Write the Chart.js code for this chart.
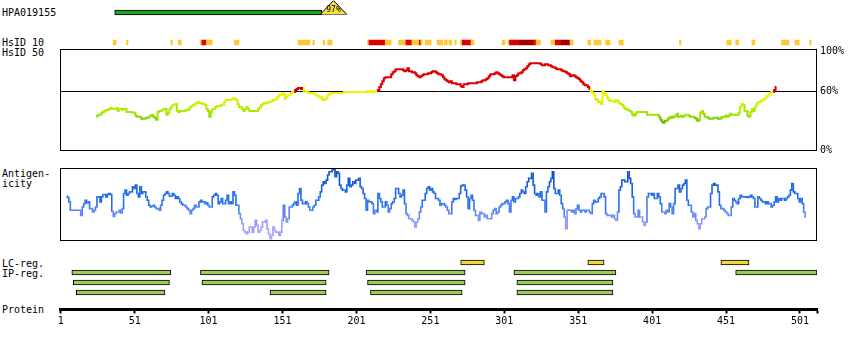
<!DOCTYPE html>
<html>
<head>
<meta charset="utf-8">
<script src="https://cdn.jsdelivr.net/npm/chart.js@4.4.1/dist/chart.umd.min.js"></script>
<style>
  html, body { margin: 0; padding: 0; background: #fff; }
  body { width: 850px; height: 350px; position: relative; overflow: hidden;
         font-family: "DejaVu Sans Mono", monospace; }
  canvas { position: absolute; left: 0; }
  .lbl { position: absolute; left: 2px; font-size: 10px; line-height: 10px;
         white-space: pre; color: #000; }
</style>
</head>
<body>
<div class="lbl" style="top:8px">HPA019155</div>
<div class="lbl" style="top:37.5px">HsID 10</div>
<div class="lbl" style="top:47.5px">HsID 50</div>
<div class="lbl" style="top:168.5px">Antigen-</div>
<div class="lbl" style="top:178.5px">icity</div>
<div class="lbl" style="top:258.5px">LC-reg.</div>
<div class="lbl" style="top:268.5px">IP-reg.</div>
<div class="lbl" style="top:305px">Protein</div>

<canvas id="cAntigen" width="850" height="20" style="top:0px"></canvas>
<canvas id="cIdentity" width="850" height="20" style="top:0px"></canvas>
<canvas id="cHsid10" width="850" height="12" style="top:36px"></canvas>
<canvas id="cHsid50" width="850" height="120" style="top:40px"></canvas>
<canvas id="cAntigenicity" width="850" height="90" style="top:160px"></canvas>
<canvas id="cRegions" width="850" height="100" style="top:250px"></canvas>

<script>
// ---- Protein and antigen ----
const proteinLength = 512;
const proteinTicks = [1, 51, 101, 151, 201, 251, 301, 351, 401, 451, 501];

const antigenName = 'HPA019155';
const antigenRange = [38, 177];      // residues covered by the antigen bar
const identityMarker = [177, 194];   // residues spanned by the identity triangle
const identityLabel = '97%';

// ---- HsID 10 blocks: [first residue, last residue, level] (1 = low, 2 = high, 3 = highest) ----
const hsid10Blocks = [
  [37, 38, 1], [46, 46, 1], [76, 76, 1], [81, 82, 1], [96, 96, 1], [97, 99, 2], [100, 103, 1],
  [119, 121, 1], [162, 169, 1], [172, 172, 1], [179, 179, 1], [182, 184, 1],
  [209, 209, 1], [210, 220, 2], [221, 224, 1], [230, 234, 1], [235, 238, 2], [239, 243, 1],
  [244, 244, 2], [245, 245, 1], [248, 251, 1], [256, 259, 1], [261, 262, 1], [264, 265, 1],
  [268, 268, 1], [272, 272, 1], [273, 278, 2], [279, 280, 1], [300, 301, 1], [304, 304, 1],
  [305, 311, 2], [312, 320, 3], [321, 322, 2], [323, 325, 1], [333, 335, 1], [336, 339, 2],
  [340, 345, 3], [346, 347, 1], [358, 359, 1], [362, 366, 1], [370, 372, 1], [379, 381, 1],
  [420, 420, 1], [452, 454, 1], [458, 459, 1], [469, 470, 1], [489, 493, 1], [498, 500, 1],
  [508, 508, 1]
];

// ---- HsID 50: percent identity per residue, starting at residue 25 ----
const hsid50Start = 25;
const hsid50 = [
  34,35,36,36,38,39,40,41,41, 42,43,42,42,42,43,40,42,42, 41,42,42,39,39,39,39,38,38,
  35,34,34,34,32,32,32,33,33, 34,35,36,34,33,31,39,40,40, 41,42,42,36,38,42,44,46,46,
  47,40,39,40,40,40,40,41,41, 42,44,45,46,47,48,49,48,48, 47,47,46,42,40,34,39,42,42,
  44,45,45,45,46,46,49,51,51, 51,51,52,53,52,51,47,44,44, 42,40,42,44,42,40,40,40,40,
  40,40,42,44,46,47,48,48,48, 49,49,50,51,51,52,54,56,56, 58,57,52,54,56,56,58,59,59,
  61,62,63,63,62,63,60,59,59, 58,58,58,58,57,56,55,54,54, 52,51,51,53,56,57,58,58,58,
  58,58,58,58,58,58,59,59,59, 59,59,59,59,59,59,59,59,59, 59,59,59,59,60,59,60,59,59,
  60,60,61,64,67,70,73,74,74, 74,74,77,79,80,82,82,82,82, 82,81,80,81,83,80,80,79,79,
  78,76,75,74,75,76,77,77,77, 78,78,79,80,80,79,78,77,77, 76,74,72,71,70,69,70,68,68,
  68,67,67,67,65,64,67,67,67, 68,68,68,68,68,68,69,69,69, 70,71,71,72,73,75,77,77,77,
  78,79,78,77,76,75,74,74,74, 74,74,74,76,71,75,76,78,78, 79,81,82,83,85,87,88,88,88,
  88,88,88,88,87,86,86,87,87, 86,86,85,84,84,83,82,82,82, 81,80,80,79,78,77,75,76,76,
  75,74,73,72,70,69,67,66,66, 64,62,60,58,56,52,51,49,49, 47,60,57,56,53,51,50,50,50,
  49,51,50,48,47,46,44,42,42, 41,40,39,36,35,37,39,39,39, 39,39,39,39,36,36,36,36,36,
  36,36,36,34,31,29,28,30,30, 32,33,34,33,34,35,37,34,34, 35,34,35,36,36,35,34,34,34,
  33,32,30,31,38,40,37,34,34, 33,32,32,32,33,33,33,32,32, 33,34,34,35,34,35,37,36,36,
  36,36,36,38,44,47,46,40,40, 35,34,39,42,40,44,47,49,49, 50,51,52,53,55,56,57,59,59,
  61,64
];
const hsid50Ticks = [0, 60, 100];
const hsid50Threshold = 60;

// ---- Antigenicity score per residue (relative units), starting at residue 5 ----
const antigenicityStart = 5;
const antigenicity = [
  132,128,115,90,90,90,90,90,90, 90,75,100,110,120,112,115,95,95, 85,90,100,130,130,115,130,137,137,
  130,137,140,137,88,72,80,85,85, 90,82,95,140,150,135,140,145,145, 160,155,165,140,130,160,140,145,145,
  130,120,105,100,102,105,100,95,95, 90,105,120,135,140,145,140,132,132, 140,135,125,130,125,115,110,105,105,
  100,95,90,80,90,95,105,100,100, 115,120,115,115,110,112,105,100,100, 130,135,140,135,110,115,125,110,110,
  120,135,110,115,110,145,135,105,105, 80,65,50,30,25,20,25,40,40, 25,40,60,45,25,30,40,55,55,
  60,35,20,5,15,40,30,25,25, 15,25,60,105,70,55,65,100,100, 105,110,115,105,140,155,120,110,110,
  115,110,100,90,90,100,105,120,120, 130,145,165,175,170,180,195,205,205, 210,215,190,205,200,165,155,150,150,
  145,165,185,160,165,175,170,180,180, 185,160,155,140,125,90,120,115,115, 110,80,90,85,140,125,115,100,100,
  115,105,85,95,110,115,125,155,155, 140,130,135,150,110,80,75,65,65, 60,55,40,55,65,85,100,120,120,
  140,155,160,150,155,145,140,125,125, 120,105,110,110,105,100,90,80,80, 115,125,122,125,125,140,162,165,165,
  150,130,95,125,135,120,90,75,75, 60,85,80,80,70,75,65,65,65, 80,90,95,80,85,100,105,110,110,
  115,120,110,85,120,130,115,125,125, 130,140,150,145,140,160,175,185,185, 200,165,140,135,140,130,145,120,120,
  85,145,160,175,185,205,155,140,140, 150,135,110,95,70,35,90,90,90, 85,90,80,95,105,90,85,90,90,
  85,90,90,85,80,110,120,115,115, 125,130,140,140,130,80,75,75,75, 70,75,65,60,85,150,160,180,180,
  175,175,205,185,170,130,80,70,70, 90,70,70,55,45,55,130,140,140, 135,140,125,125,140,130,110,85,85,
  80,90,85,110,100,80,110,155,155, 165,145,155,165,170,180,120,105,105, 85,70,80,60,50,35,50,65,65,
  70,95,100,100,140,165,170,165,165, 145,105,95,95,90,85,80,75,75, 100,125,120,115,110,125,135,130,130,
  130,130,128,130,135,130,125,100,100, 130,125,120,115,115,110,115,110,110, 100,105,115,130,115,125,120,125,125,
  120,125,130,135,150,170,145,140,140, 125,115,125,110,85,70
];
const antigenicityMax = 216;

// ---- Regions: [first residue, last residue] ----
const lcRegions = [[272, 287], [358, 368], [448, 466]];
const ipRegions = [
  [[9, 75], [96, 182], [208, 274], [308, 376], [458, 512]],
  [[10, 74], [97, 180], [209, 274], [310, 374]],
  [[12, 71], [143, 180], [211, 272], [310, 374]]
];

// ---- Styling ----
const FONT = '"DejaVu Sans Mono", monospace';
Chart.defaults.font.family = FONT;
Chart.defaults.font.size = 10;
Chart.defaults.color = '#000';
Chart.defaults.animation = false;
Chart.defaults.events = [];
Chart.defaults.plugins.legend.display = false;
Chart.defaults.plugins.tooltip.enabled = false;

const hsid10Colors = { 1: '#FFC832', 2: '#DD0000', 3: '#A00000' };

function mix(stops, v) {
  if (v <= stops[0][0]) return stops[0][1];
  for (let i = 1; i < stops.length; i++) {
    if (v <= stops[i][0]) {
      const [a, ca] = stops[i - 1], [b, cb] = stops[i];
      const t = (v - a) / (b - a);
      return ca.map((c, k) => Math.round(c + (cb[k] - c) * t));
    }
  }
  return stops[stops.length - 1][1];
}
const rgb = c => `rgb(${c[0]},${c[1]},${c[2]})`;

const identityStops = [[28, [95, 185, 0]], [35, [150, 225, 0]], [45, [195, 240, 0]], [55, [235, 245, 0]], [60, [250, 240, 0]]];
function hsidColor(v) {
  return v > hsid50Threshold ? '#DD0000' : rgb(mix(identityStops, v));
}
const antigenStops = [[0, [170, 165, 255]], [50, [155, 155, 255]], [80, [100, 135, 250]], [110, [40, 112, 240]], [150, [25, 100, 230]], [216, [0, 70, 185]]];
function antigenColor(v) { return rgb(mix(antigenStops, v)); }

// Residue axis shared by every panel: each residue is one unit wide.
function residueAxis() {
  return { type: 'linear', min: 0.5, max: proteinLength + 0.5, display: false, offset: false };
}
const span = r => [r[0] - 0.5, r[1] + 0.5];

// Black box around a panel's plot area
const framePlugin = {
  id: 'frame',
  afterDatasetsDraw(chart) {
    const { ctx, chartArea: a } = chart;
    const l = Math.floor(a.left) + 0.5, t = Math.floor(a.top) + 0.5;
    const r = Math.floor(a.right) - 0.5, b = Math.floor(a.bottom) + 0.5;
    ctx.save();
    ctx.strokeStyle = '#000';
    ctx.lineWidth = 1;
    ctx.strokeRect(l, t, r - l, b - t);
    ctx.restore();
  }
};

// ---- Antigen bar ----
new Chart(document.getElementById('cAntigen'), {
  type: 'bar',
  data: {
    labels: [antigenName],
    datasets: [{
      data: [span(antigenRange)],
      backgroundColor: '#22A322', borderColor: '#000', borderWidth: 1,
      borderSkipped: false, barThickness: 5
    }]
  },
  options: {
    indexAxis: 'y', responsive: false, devicePixelRatio: 1,
    layout: { padding: { left: 60, right: 33, top: 7.5, bottom: 2.5 } },
    scales: { x: residueAxis(), y: { display: false } }
  }
});

// ---- Identity triangle with its label ----
const triangleLabel = {
  id: 'triangleLabel',
  afterDatasetsDraw(chart) {
    const { ctx, scales: { x, y } } = chart;
    ctx.save();
    ctx.font = '8px ' + FONT;
    ctx.fillStyle = '#000';
    ctx.textAlign = 'center';
    ctx.textBaseline = 'middle';
    ctx.fillText(identityLabel, x.getPixelForValue((identityMarker[0] + identityMarker[1]) / 2), y.getPixelForValue(0.36));
    ctx.restore();
  }
};
new Chart(document.getElementById('cIdentity'), {
  type: 'line',
  data: {
    datasets: [{
      data: [
        { x: identityMarker[0] - 0.5, y: 0 },
        { x: (identityMarker[0] + identityMarker[1]) / 2, y: 1 },
        { x: identityMarker[1] + 0.5, y: 0 },
        { x: identityMarker[0] - 0.5, y: 0 }
      ],
      fill: 'shape', backgroundColor: '#F4E040', borderColor: '#000', borderWidth: 1,
      pointRadius: 0, tension: 0
    }]
  },
  options: {
    responsive: false, devicePixelRatio: 1,
    layout: { padding: { left: 60, right: 33, top: 0.5, bottom: 5.5 } },
    scales: { x: residueAxis(), y: { type: 'linear', min: 0, max: 1, display: false } }
  },
  plugins: [triangleLabel]
});

// ---- HsID 10 strip ----
new Chart(document.getElementById('cHsid10'), {
  type: 'bar',
  data: {
    labels: ['HsID 10'],
    datasets: [{
      data: hsid10Blocks.map(b => ({ x: span(b), y: 'HsID 10', level: b[2] })),
      backgroundColor: ctx => (ctx.raw ? hsid10Colors[ctx.raw.level] : hsid10Colors[1]),
      borderWidth: 0, barThickness: 5, grouped: false
    }]
  },
  options: {
    indexAxis: 'y', responsive: false, devicePixelRatio: 1,
    layout: { padding: { left: 60, right: 33, top: 1.5, bottom: 0.5 } },
    scales: { x: residueAxis(), y: { display: false } }
  }
});

// ---- HsID 50 identity profile ----
new Chart(document.getElementById('cHsid50'), {
  type: 'line',
  data: {
    datasets: [{
      data: hsid50.map((v, i) => ({ x: hsid50Start + i, y: v })),
      borderWidth: 2, pointRadius: 0, stepped: 'middle', fill: false,
      borderColor: '#DD0000',
      segment: { borderColor: ctx => hsidColor(ctx.p1.parsed.y) }
    }]
  },
  options: {
    responsive: false, devicePixelRatio: 1,
    layout: { padding: { left: 60, right: 0, top: 8, bottom: 9.5 } },
    scales: {
      x: residueAxis(),
      y: {
        type: 'linear', position: 'right', min: 0, max: 102.5, offset: false,
        afterBuildTicks: s => { s.ticks = hsid50Ticks.map(v => ({ value: v })); },
        afterFit: s => { s.width = 33; },
        ticks: { padding: 3, callback: v => v + '%', color: '#000' },
        grid: {
          drawTicks: false, lineWidth: 1,
          color: c => (c.tick && c.tick.value === hsid50Threshold ? '#000' : 'rgba(0,0,0,0)')
        },
        border: { display: false }
      }
    }
  },
  plugins: [framePlugin]
});

// ---- Antigenicity profile ----
new Chart(document.getElementById('cAntigenicity'), {
  type: 'line',
  data: {
    datasets: [{
      data: antigenicity.map((v, i) => ({ x: antigenicityStart + i, y: v })),
      borderWidth: 1.6, pointRadius: 0, stepped: 'middle', fill: false,
      borderColor: '#2070F0',
      segment: { borderColor: ctx => antigenColor((ctx.p0.parsed.y + ctx.p1.parsed.y) / 2) }
    }]
  },
  options: {
    responsive: false, devicePixelRatio: 1,
    layout: { padding: { left: 60, right: 33, top: 8, bottom: 9.5 } },
    scales: { x: residueAxis(), y: { type: 'linear', min: 0, max: antigenicityMax, display: false } }
  },
  plugins: [framePlugin]
});

// ---- LC / IP regions and the protein axis ----
new Chart(document.getElementById('cRegions'), {
  type: 'bar',
  data: {
    datasets: [
      {
        data: lcRegions.map(r => ({ x: span(r), y: 0 })),
        backgroundColor: '#EED83A', borderColor: '#000', borderWidth: 1,
        borderSkipped: false, barThickness: 5, grouped: false
      },
      {
        data: ipRegions.flatMap((row, k) => row.map(r => ({ x: span(r), y: k + 1 }))),
        backgroundColor: '#9BCB5F', borderColor: '#000', borderWidth: 1,
        borderSkipped: false, barThickness: 5, grouped: false
      }
    ]
  },
  options: {
    indexAxis: 'y', responsive: false, devicePixelRatio: 1,
    layout: { padding: { left: 60, right: 33, top: 7.5, bottom: 10.5 } },
    scales: {
      x: {
        type: 'linear', position: 'bottom', min: 0.5, max: proteinLength + 0.5, offset: false,
        afterBuildTicks: s => { s.ticks = proteinTicks.concat([proteinLength + 0.5]).map(v => ({ value: v })); },
        afterFit: s => { s.height = 30; },
        ticks: {
          autoSkip: false, maxRotation: 0, minRotation: 0, padding: 2, color: '#000',
          callback: v => (proteinTicks.includes(v) ? String(v) : '')
        },
        grid: { drawOnChartArea: false, drawTicks: true, tickLength: 4, tickWidth: 2, tickColor: '#000', offset: false },
        border: { display: true, color: '#000', width: 3 }
      },
      y: { type: 'linear', reverse: true, min: -0.5, max: 4.7, display: false, offset: false }
    }
  }
});
</script>
</body>
</html>
